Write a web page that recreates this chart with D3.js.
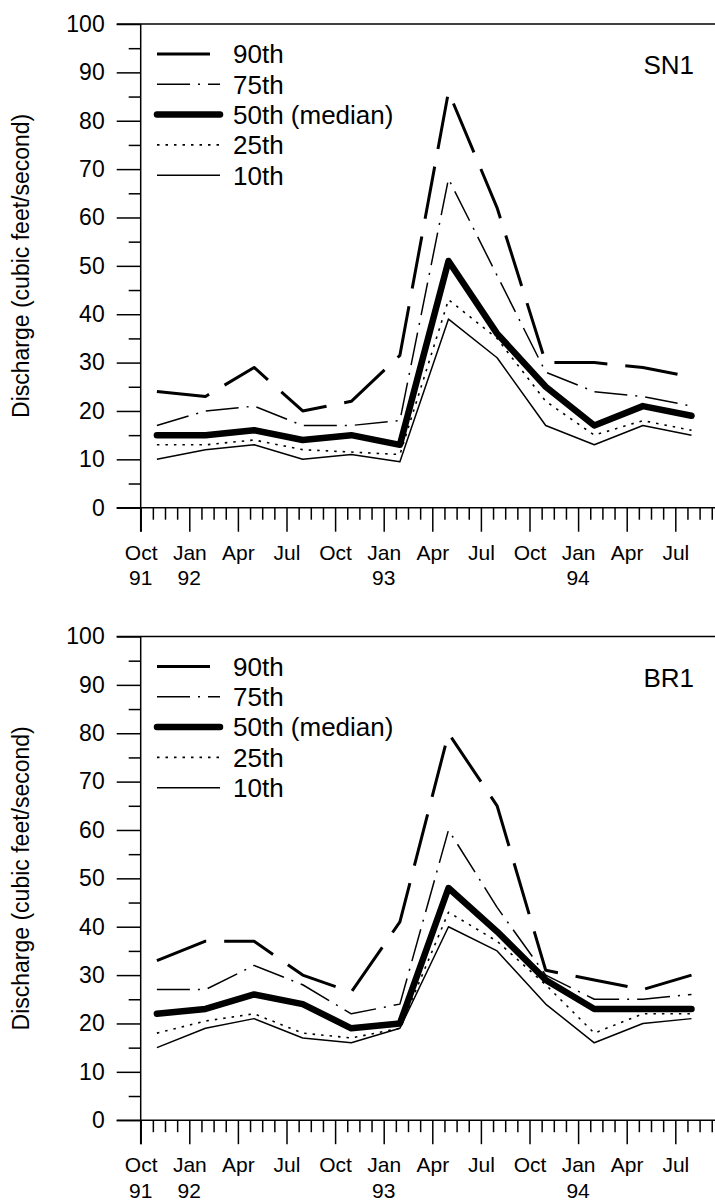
<!DOCTYPE html>
<html>
<head>
<meta charset="utf-8">
<script src="https://cdn.jsdelivr.net/npm/d3@7"></script>
<style>
  body { margin: 0; background: #fff; }
  svg { display: block; font-family: "Liberation Sans", Arial, sans-serif; }
  .axis path { display: none; }
  .axis line { stroke: #000; stroke-width: 1.5; }
  .axis text { font-size: 23px; fill: #000; }
  .xaxis text { font-size: 21px; }
</style>
</head>
<body>
<svg id="chart" width="715" height="1203"></svg>
<script>
// months counted from Oct 1991 (0); one sample per quarter
var sampleMonths = [1, 4, 7, 10, 13, 16, 19, 22, 25, 28, 31, 34];

var sn1_p90 = [24, 23, 29, 20, 22, 31.5, 86, 62, 30, 30, 29, 27];
var sn1_p75 = [17, 20, 21, 17, 17, 18, 68, 48, 28, 24, 23, 21];
var sn1_p50 = [15, 15, 16, 14, 15, 13, 51, 36, 25, 17, 21, 19];
var sn1_p25 = [13, 13, 14, 12, 11.5, 11, 43, 35, 22, 15, 18, 16];
var sn1_p10 = [10, 12, 13, 10, 11, 9.5, 39, 31, 17, 13, 17, 15];

var br1_p90 = [33, 37, 37, 30, 26.5, 41, 80, 65, 31, 29, 27, 30];
var br1_p75 = [27, 27, 32, 28, 22, 24, 60, 44, 30, 25, 25, 26];
var br1_p50 = [22, 23, 26, 24, 19, 20, 48, 39, 29, 23, 23, 23];
var br1_p25 = [18, 20.5, 22, 18, 17, 19, 43, 37, 28, 18, 22, 22];
var br1_p10 = [15, 19, 21, 17, 16, 19, 40, 35, 24, 16, 20, 21];

var majorMonths = [0, 3, 6, 9, 12, 15, 18, 21, 24, 27, 30, 33];
var monthLabels = ["Oct", "Jan", "Apr", "Jul", "Oct", "Jan", "Apr", "Jul", "Oct", "Jan", "Apr", "Jul"];
var yearMonths = [0, 3, 15, 27];
var yearLabels = ["91", "92", "93", "94"];

var seriesNames = ["90th", "75th", "50th (median)", "25th", "10th"];
var yTicksMajor = d3.range(0, 101, 10);
var yTicksMinor = d3.range(5, 100, 10);

var styles = [
  {width: 3, dash: "53,18", cap: "butt"},
  {width: 1.5, dash: "33,8,2,8", cap: "butt"},
  {width: 6.5, dash: null, cap: "round"},
  {width: 1.6, dash: "2.5,6", cap: "butt"},
  {width: 1.5, dash: null, cap: "butt"}
];

var svg = d3.select("#chart");

var x = d3.scaleLinear().domain([0, 33]).range([140.7, 675.3]);

function drawPanel(top, series, name) {
  var y = d3.scaleLinear().domain([0, 100]).range([top + 483.7, top]);
  var g = svg.append("g");
  var x0 = x(0), y0 = y(0);

  // y axis
  g.append("g").attr("class", "axis")
    .attr("transform", "translate(" + x0 + ",0)")
    .call(d3.axisLeft(y).tickValues(yTicksMajor).tickSize(24).tickPadding(12));
  g.append("g").attr("class", "axis")
    .attr("transform", "translate(" + x0 + ",0)")
    .call(d3.axisLeft(y).tickValues(yTicksMinor).tickSize(12).tickFormat(""));

  // x axis
  var minor = d3.range(0, 36, 0.75).filter(function(m) { return m % 3 !== 0; });
  g.append("g").attr("class", "axis xaxis")
    .attr("transform", "translate(0," + y0 + ")")
    .call(d3.axisBottom(x).tickValues(majorMonths).tickSize(24).tickPadding(13)
      .tickFormat(function(d, i) { return monthLabels[i]; }));
  g.append("g").attr("class", "axis")
    .attr("transform", "translate(0," + y0 + ")")
    .call(d3.axisBottom(x).tickValues(minor.filter(function(m) { return x(m) < 715; }))
      .tickSize(12).tickFormat(""));

  g.selectAll(".year").data(yearLabels).enter().append("text")
    .attr("x", function(d, i) { return x(yearMonths[i]); })
    .attr("y", y0 + 70)
    .attr("dy", "0.36em")
    .attr("text-anchor", "middle")
    .style("font-size", "21px")
    .text(function(d) { return d; });

  // axis lines
  g.append("line").attr("x1", x0).attr("x2", x0).attr("y1", y(100)).attr("y2", y0 + 24)
    .attr("stroke", "#000").attr("stroke-width", 1.5);
  g.append("line").attr("x1", x0 - 24).attr("x2", 715).attr("y1", y0).attr("y2", y0)
    .attr("stroke", "#000").attr("stroke-width", 1.5);
  g.append("line").attr("x1", x0 - 24).attr("x2", 715).attr("y1", y(100)).attr("y2", y(100))
    .attr("stroke", "#000").attr("stroke-width", 1.5);

  g.append("text")
    .attr("transform", "translate(29," + ((y(100) + y0) / 2) + ") rotate(-90)")
    .attr("text-anchor", "middle")
    .style("font-size", "23px")
    .text("Discharge (cubic feet/second)");

  var line = d3.line()
    .x(function(d, i) { return x(sampleMonths[i]); })
    .y(function(d) { return y(d); });

  series.forEach(function(s, k) {
    g.append("path").datum(s)
      .attr("d", line)
      .attr("fill", "none")
      .attr("stroke", "#000")
      .attr("stroke-width", styles[k].width)
      .attr("stroke-dasharray", styles[k].dash)
      .attr("stroke-linecap", styles[k].cap)
      .attr("stroke-linejoin", "round");
  });

  // legend
  seriesNames.forEach(function(n, k) {
    var ly = top + 30 + k * 30.3;
    g.append("line")
      .attr("x1", 157).attr("x2", 220).attr("y1", ly).attr("y2", ly)
      .attr("stroke", "#000")
      .attr("stroke-width", styles[k].width)
      .attr("stroke-dasharray", styles[k].dash)
      .attr("stroke-linecap", styles[k].cap);
    g.append("text")
      .attr("x", 233).attr("y", ly).attr("dy", "0.36em")
      .style("font-size", "26px")
      .text(n);
  });

  g.append("text")
    .attr("x", 694).attr("y", top + 41).attr("dy", "0.36em")
    .attr("text-anchor", "end")
    .style("font-size", "26px")
    .text(name);
}

drawPanel(24, [sn1_p90, sn1_p75, sn1_p50, sn1_p25, sn1_p10], "SN1");
drawPanel(636.5, [br1_p90, br1_p75, br1_p50, br1_p25, br1_p10], "BR1");
</script>
</body>
</html>
